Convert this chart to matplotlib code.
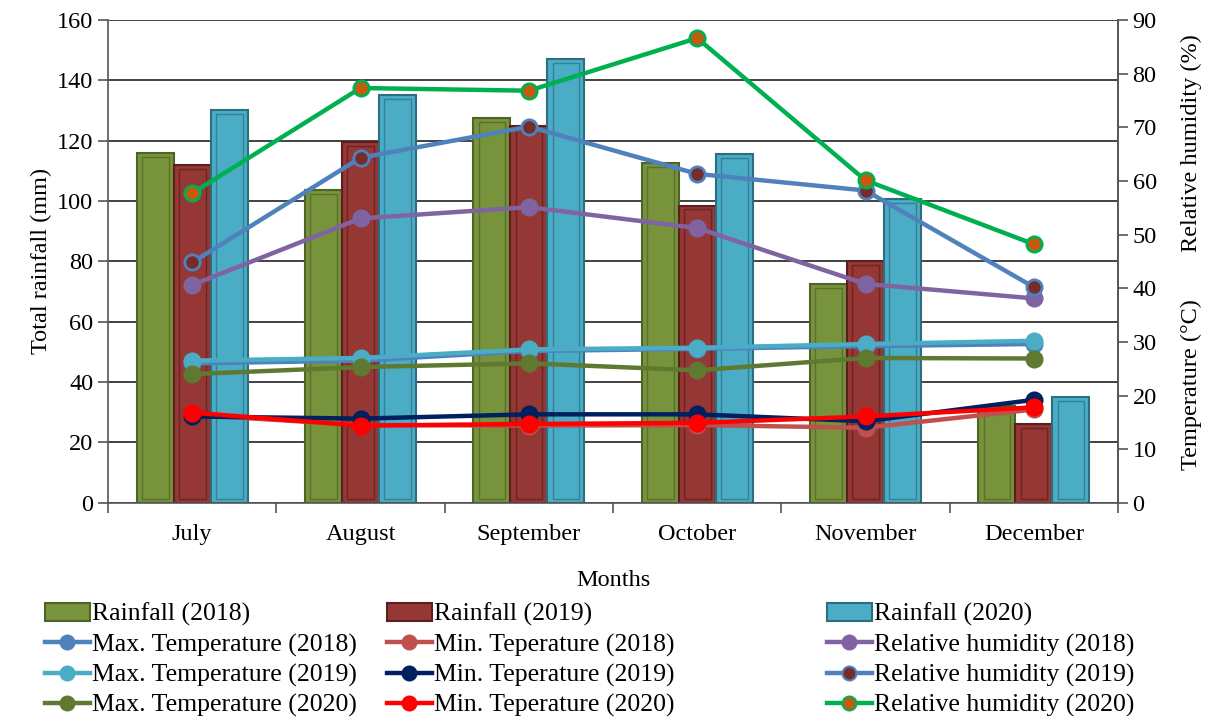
import numpy as np
import matplotlib
matplotlib.use('Agg')
from matplotlib import pyplot as plt
from matplotlib.lines import Line2D
from matplotlib.patches import Patch

plt.rcParams['font.family'] = ['Liberation Serif', 'DejaVu Serif']

# data
months = ['July', 'August', 'September', 'October', 'November', 'December']
rain_2018 = [116, 103.5, 127.5, 112.5, 72.5, 32]
rain_2019 = [112, 119.5, 125, 98.5, 80, 26]
rain_2020 = [130, 135, 147, 115.5, 100.5, 35]

tmax_2018 = [26.0, 26.5, 28.3, 28.7, 29.2, 29.6]
tmax_2019 = [26.5, 27.0, 28.6, 28.9, 29.6, 30.2]
tmax_2020 = [24.0, 25.3, 26.0, 24.7, 27.0, 26.9]
tmin_2018 = [16.4, 14.5, 14.4, 14.5, 14.0, 17.4]
tmin_2019 = [16.1, 15.7, 16.5, 16.5, 15.2, 19.2]
tmin_2020 = [16.8, 14.4, 14.7, 14.9, 16.1, 17.8]
rh_2018 = [40.6, 53.0, 55.1, 51.2, 40.8, 38.1]
rh_2019 = [44.8, 64.3, 70.1, 61.3, 58.2, 40.2]
rh_2020 = [57.7, 77.3, 76.8, 86.6, 60.1, 48.2]

FS = 17.5

fig = plt.figure(figsize=(12.1, 7.22), dpi=100)
ax = fig.add_axes([0.0893, 0.3035, 0.8347, 0.669])
ax2 = ax.twinx()

x = np.arange(len(months))
w = 0.22
bar_sets = [
    (rain_2018, -w, '#77933C', '#4F6228', 'Rainfall (2018)'),
    (rain_2019, 0, '#953735', '#5A1F1E', 'Rainfall (2019)'),
    (rain_2020, w, '#4BACC6', '#2C6E80', 'Rainfall (2020)'),
]
handles_bar = []
for vals, off, fc, ec, lab in bar_sets:
    ax.bar(x + off, vals, w, color=fc, edgecolor=ec, linewidth=1.5, zorder=2)
    # inner bevel
    ax.bar(x + off, np.array(vals) - 2.5, w * 0.72, bottom=1.2, color='none',
           edgecolor=ec, linewidth=1.0, alpha=0.7, zorder=3)
    handles_bar.append(Patch(facecolor=fc, edgecolor=ec, linewidth=1.5, label=lab))

ax.set_ylim(0, 160)
ax.set_yticks(np.arange(0, 161, 20))
ax.set_xlim(-0.5, len(months) - 0.5)
ax.set_xticks(x)
ax.set_xticklabels(months)
ax.set_xticks(np.arange(-0.5, len(months)), minor=True)
ax.tick_params(axis='x', which='major', length=0, pad=15, labelsize=FS)
ax.tick_params(axis='x', which='minor', length=7, width=1.2, color='#555555')
ax.tick_params(axis='y', labelsize=FS, length=7, width=1.2, color='#555555')
ax.yaxis.grid(True, color='#222222', linewidth=1.2, zorder=0)
ax.set_axisbelow(True)
ax.spines['top'].set_visible(False)
for s in ['left', 'bottom', 'right']:
    ax.spines[s].set_color('#555555')
    ax.spines[s].set_linewidth(1.2)
ax.set_ylabel('Total rainfall (mm)', fontsize=FS, labelpad=4)
ax.set_xlabel('Months', fontsize=FS, labelpad=18)

line_sets = [
    (tmax_2018, '#4F81BD', '#4F81BD', '#4F81BD', 'Max. Temperature (2018)'),
    (tmax_2019, '#4BACC6', '#4BACC6', '#4BACC6', 'Max. Temperature (2019)'),
    (tmax_2020, '#5F7A30', '#5F7A30', '#5F7A30', 'Max. Temperature (2020)'),
    (tmin_2018, '#C0504D', '#C0504D', '#C0504D', 'Min. Teperature (2018)'),
    (tmin_2019, '#002060', '#002060', '#002060', 'Min. Teperature (2019)'),
    (tmin_2020, '#FF0000', '#FF0000', '#FF0000', 'Min. Teperature (2020)'),
    (rh_2018, '#8064A2', '#8064A2', '#8064A2', 'Relative humidity (2018)'),
    (rh_2019, '#4F81BD', '#772C2A', '#4F81BD', 'Relative humidity (2019)'),
    (rh_2020, '#00B050', '#C55A11', '#00B050', 'Relative humidity (2020)'),
]
handles_line = []
for vals, lc, mfc, mec, lab in line_sets:
    ax2.plot(x, vals, color=lc, linewidth=3.2, marker='o', markersize=11,
             markerfacecolor=mfc, markeredgecolor=mec, markeredgewidth=2, zorder=5)
    handles_line.append(Line2D([0], [0], color=lc, linewidth=3.2, marker='o', markersize=10,
                               markerfacecolor=mfc, markeredgecolor=mec,
                               markeredgewidth=1.5, label=lab))

ax2.set_ylim(0, 90)
ax2.set_yticks(np.arange(0, 91, 10))
ax2.tick_params(axis='y', labelsize=FS, length=7, width=1.2, color='#555555')
for s in ['top', 'left', 'bottom']:
    ax2.spines[s].set_visible(False)
ax2.spines['right'].set_color('#555555')
ax2.spines['right'].set_linewidth(1.2)

fig.text(0.985, 1 - 143 / 722, 'Relative humidity (%)', rotation=90, ha='center', va='center', fontsize=FS)
fig.text(0.985, 1 - 385 / 722, 'Temperature (°C)', rotation=90, ha='center', va='center', fontsize=FS)

# three legend columns placed like the original
columns = [
    ([handles_bar[0]] + handles_line[0:3], 45),
    ([handles_bar[1]] + handles_line[3:6], 387),
    ([handles_bar[2]] + handles_line[6:9], 827),
]
for hs, xpx in columns:
    leg = fig.legend(handles=hs, loc='upper left', bbox_to_anchor=(xpx / 1210, 1 - 603 / 722),
                     ncol=1, frameon=False, fontsize=18.5, handlelength=1.75,
                     handletextpad=0.08, labelspacing=0.27, borderpad=0, borderaxespad=0)

fig.savefig('out.png', dpi=100)
